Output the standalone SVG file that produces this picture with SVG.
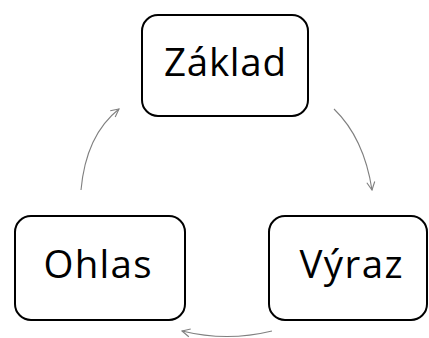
<svg xmlns="http://www.w3.org/2000/svg" width="429" height="338" viewBox="0 0 429 338">
<style>
.box{fill:#fff;stroke:#000;stroke-width:2}
.lbl{font-family:"Open Sans","Noto Sans","Liberation Sans",sans-serif;font-size:38.5px;fill:#000;text-anchor:middle}
.edge{fill:none;stroke:#808080;stroke-width:1.1}
</style>
<defs>
<marker id="ah" viewBox="0 0 10 10" refX="9" refY="5" markerWidth="10" markerHeight="10" markerUnits="userSpaceOnUse" orient="auto">
<path d="M1,1 L9,5 L1,9" fill="none" stroke="#808080" stroke-width="1.1"/>
</marker>
</defs>
<g id="connectors">
<path class="edge" d="M334,109 Q364,138 372,190" marker-end="url(#ah)"/>
<path class="edge" d="M272,331 Q227,342 182,331" marker-end="url(#ah)"/>
<path class="edge" d="M81,190 Q86,135 119,109" marker-end="url(#ah)"/>
</g>
<g id="zaklad">
<rect class="box" x="142" y="15" width="166" height="101" rx="16"/>
<text class="lbl" x="225" y="76" textLength="122" lengthAdjust="spacing">Základ</text>
</g>
<g id="ohlas">
<rect class="box" x="15" y="216" width="170" height="104" rx="16"/>
<text class="lbl" x="97.5" y="278" textLength="108" lengthAdjust="spacing">Ohlas</text>
</g>
<g id="vyraz">
<rect class="box" x="269" y="216" width="158" height="104" rx="16"/>
<text class="lbl" x="351" y="278" textLength="103" lengthAdjust="spacing">Výraz</text>
</g>
</svg>
